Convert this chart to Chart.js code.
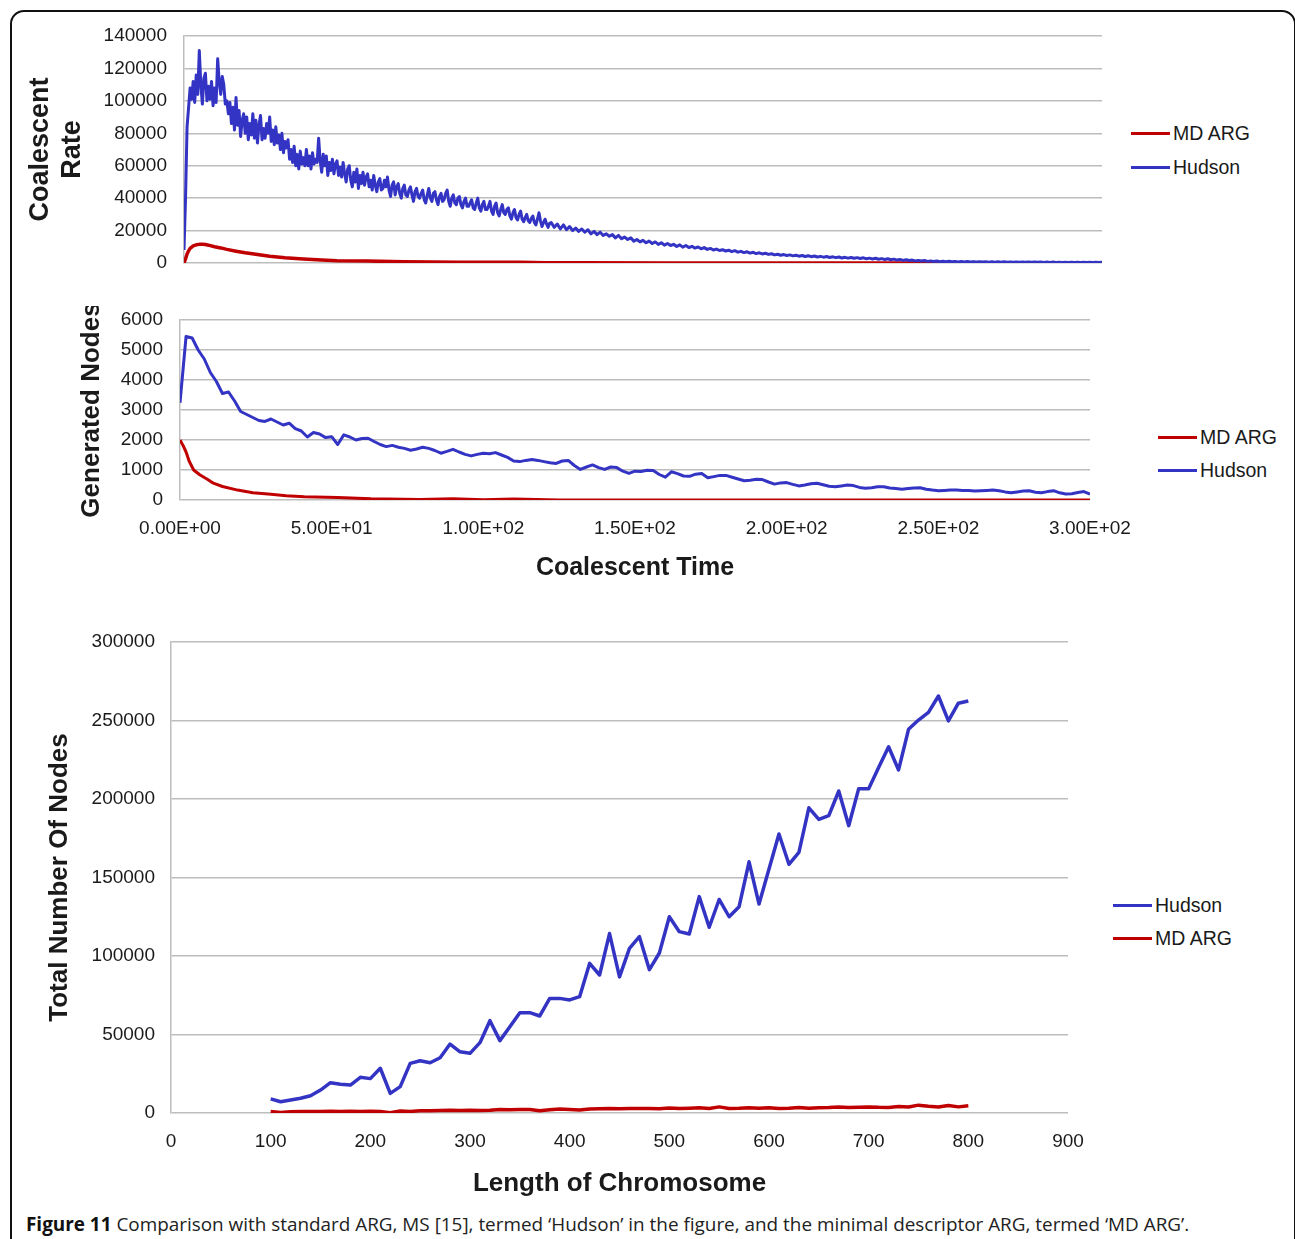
<!DOCTYPE html>
<html>
<head>
<meta charset="utf-8">
<script src="https://cdn.jsdelivr.net/npm/chart.js@4.4.1/dist/chart.umd.min.js"></script>
<style>
  html, body { margin:0; padding:0; background:#fff; }
  body { width:1295px; height:1239px; overflow:hidden; position:relative; font-family:"Liberation Sans", Arial, sans-serif; }
  .frame { position:absolute; left:10px; top:10px; width:1282px; height:1300px; border:2px solid #111; border-radius:14px; }
  .box { position:absolute; }
  .leg { position:absolute; display:flex; align-items:center; height:24px; font-size:19.5px; color:#1a1a1a; white-space:nowrap; }
  .leg span { display:inline-block; width:39px; height:3px; margin-right:3px; }
  .caption { position:absolute; left:26px; top:1211px; font-family:"Open Sans", "Noto Sans", sans-serif; font-size:18.9px; line-height:26px; color:#222; white-space:nowrap; }
  .caption b { color:#111; }
</style>
</head>
<body>
<div class="frame"></div>

<div class="box" style="left:20px;top:26px;width:1090px;height:250px"><canvas id="rate"></canvas></div>
<div class="leg" style="left:1131px;top:121px"><span style="background:#c00000"></span>MD ARG</div>
<div class="leg" style="left:1131px;top:155px"><span style="background:#3434c4"></span>Hudson</div>

<div class="box" style="left:20px;top:306px;width:1120px;height:280px"><canvas id="nodes"></canvas></div>
<div class="leg" style="left:1158px;top:425px"><span style="background:#c00000"></span>MD ARG</div>
<div class="leg" style="left:1158px;top:458px"><span style="background:#3434c4"></span>Hudson</div>

<div class="box" style="left:20px;top:628px;width:1078px;height:573px"><canvas id="total"></canvas></div>
<div class="leg" style="left:1113px;top:893px"><span style="background:#3434c4"></span>Hudson</div>
<div class="leg" style="left:1113px;top:926px"><span style="background:#c00000"></span>MD ARG</div>

<div class="caption"><b>Figure 11</b> Comparison with standard ARG, MS [15], termed ‘Hudson’ in the figure, and the minimal descriptor ARG, termed ‘MD ARG’.</div>

<script>
// ---- coalescent rate (top) ----
// Hudson: every 0.5 time units up to t=119.5, then every 1 unit from t=120 to 300
const RATE_EARLY_STEP = 0.5, RATE_LATE_START = 120, RATE_LATE_STEP = 1;
const rateHudsonEarly = [
  8000, 40000, 84000, 96000, 108000, 101000, 112000, 99000, 116000, 104000,
  131000, 110000, 98000, 114000, 117000, 100000, 109000, 101000, 112000, 97000,
  108000, 99000, 126000, 112000, 104000, 115000, 110000, 98000, 100000, 92000,
  99000, 86000, 96000, 82000, 102000, 85000, 94000, 78000, 88000, 92000,
  80000, 90000, 76000, 86000, 79000, 92000, 77000, 88000, 74000, 85000,
  91000, 76000, 83000, 77000, 86000, 80000, 90000, 75000, 82000, 73000,
  84000, 74000, 79000, 70000, 80000, 68000, 75000, 71000, 76000, 64000,
  70000, 62000, 72000, 60000, 67000, 58000, 69000, 61000, 65000, 60000,
  70000, 60000, 66000, 58000, 68000, 61000, 64000, 62000, 77000, 63000,
  56000, 67000, 60000, 66000, 54000, 62000, 57000, 64000, 55000, 61000,
  63000, 54000, 59000, 53000, 62000, 55000, 50000, 58000, 60000, 51000,
  47000, 56000, 50000, 58000, 46000, 54000, 49000, 56000, 48000, 53000,
  55000, 47000, 51000, 45000, 54000, 48000, 44000, 50000, 52000, 45000,
  46000, 51000, 47000, 53000, 45000, 41000, 48000, 50000, 42000, 47000,
  49000, 43000, 40000, 46000, 48000, 42000, 41000, 45000, 47000, 42000,
  38000, 44000, 46000, 41000, 40000, 43000, 45000, 39000, 37000, 42000,
  46000, 40000, 38000, 43000, 44000, 39000, 36000, 41000, 43000, 38000,
  39000, 43000, 45000, 38000, 35000, 40000, 42000, 37000, 36000, 40000,
  41000, 36000, 34000, 38000, 40000, 35000, 35000, 37000, 39000, 34000,
  33000, 37000, 40000, 34000, 32000, 36000, 38000, 33000, 33000, 35000,
  38000, 32000, 30000, 35000, 37000, 31000, 29000, 33000, 36000, 31000,
  30000, 33000, 34000, 29000, 27000, 31000, 33000, 28000, 26500, 30000,
  32000, 27000, 25500, 28000, 30000, 26000, 25000, 27500, 29000, 25000,
  23500, 27000, 31000, 26000, 22500, 25000, 27000, 24000, 22000, 24500
];
const rateHudsonLate = [
  25000, 22000, 24000, 21000, 23500, 20500, 22500, 20000, 21500, 19500,
  21000, 19000, 20500, 18000, 19500, 17500, 19000, 17000, 18000, 16500,
  17500, 15500, 17000, 15000, 16000, 14500, 15500, 13500, 14500, 13000,
  14000, 12500, 13500, 12000, 13000, 11500, 12500, 11000, 12000, 10800,
  11500, 10200, 11200, 9800, 10800, 9500, 10300, 9200, 9900, 8800,
  9500, 8400, 9000, 8000, 8600, 7700, 8200, 7400, 7900, 7000,
  7600, 6700, 7200, 6400, 6900, 6100, 6600, 5800, 6300, 5600,
  6000, 5300, 5700, 5000, 5400, 4800, 5200, 4600, 5000, 4400,
  4800, 4200, 4600, 4000, 4500, 3900, 4300, 3700, 4100, 3600,
  4000, 3400, 3800, 3300, 3700, 3100, 3500, 3000, 3400, 2900,
  3300, 2800, 3200, 2600, 3000, 2500, 2900, 2300, 2700, 2200,
  2600, 2000, 2400, 1800, 2200, 1600, 2000, 1500, 1800, 1300,
  1600, 1200, 1500, 1000, 1300, 900, 1200, 800, 1100, 750,
  1100, 750, 1000, 700, 950, 650, 900, 620, 850, 600,
  820, 560, 780, 540, 760, 520, 740, 500, 720, 480,
  700, 460, 680, 450, 660, 440, 640, 420, 620, 400,
  600, 390, 580, 380, 560, 370, 540, 360, 520, 350,
  500, 340, 480, 330, 470, 320, 460, 310, 450, 300,
  400
];
const rateMdTime = [0, 0.5, 1, 1.5, 2, 3, 4, 5, 6, 7, 8, 10, 12, 14, 17, 20, 24, 28, 33, 39, 45, 50, 60, 72, 90, 110, 118, 130, 160, 200, 240, 300];
const rateMd     = [0, 2500, 5500, 7500, 9000, 10500, 11200, 11500, 11600, 11400, 11000, 10000, 9300, 8400, 7300, 6300, 5200, 4100, 3200, 2500, 1900, 1400, 1200, 700, 500, 450, 200, 80, 40, 20, 10, 0];
const rateTicks = [0, 20000, 40000, 60000, 80000, 100000, 120000, 140000];

// ---- generated nodes (middle) ----
const NODE_STEP = 2;
const nodesHudson = [
  3240, 5450, 5400, 5000, 4700, 4250, 3950, 3550, 3600, 3300,
  2950, 2850, 2750, 2650, 2620, 2700, 2600, 2500, 2560, 2380,
  2300, 2100, 2250, 2200, 2080, 2110, 1850, 2170, 2100, 2000,
  2050, 2060, 1950, 1850, 1780, 1820, 1760, 1720, 1660, 1700,
  1760, 1720, 1650, 1560, 1620, 1690, 1600, 1520, 1470, 1520,
  1560, 1540, 1580, 1500, 1420, 1300, 1280, 1320, 1350, 1320,
  1280, 1240, 1220, 1300, 1320, 1150, 1020, 1100, 1170, 1080,
  1020, 1100, 1080, 960, 890, 960, 950, 990, 980, 850,
  760, 940, 880, 800, 790, 860, 880, 740, 780, 820,
  820, 760, 700, 640, 660, 690, 680, 600, 530, 570,
  580, 520, 470, 500, 540, 560, 510, 460, 440, 470,
  500, 480, 420, 390, 410, 440, 440, 400, 380, 360,
  380, 400, 410, 360, 330, 310, 320, 330, 330, 320,
  320, 300, 310, 320, 330, 310, 270, 240, 270, 300,
  310, 260, 240, 280, 310, 240, 200, 210, 250, 280,
  200
];
const nodesMdTime = [0, 1, 2, 3, 4.5, 6.5, 9, 11, 14, 19, 24, 30, 35, 41, 52, 63, 79, 90, 100, 110, 125, 150, 200, 250, 300];
const nodesMd     = [2000, 1820, 1600, 1300, 1000, 840, 690, 560, 450, 330, 240, 190, 140, 110, 80, 40, 20, 40, 10, 30, 0, 0, 0, 0, 0];
const nodeTicks = [0, 1000, 2000, 3000, 4000, 5000, 6000];
const timeTicks = [0, 50, 100, 150, 200, 250, 300];

// ---- total nodes vs chromosome length (bottom) ----
const chromLength = [
  100, 110, 120, 130, 140, 150, 160, 170, 180, 190,
  200, 210, 220, 230, 240, 250, 260, 270, 280, 290,
  300, 310, 320, 330, 340, 350, 360, 370, 380, 390,
  400, 410, 420, 430, 440, 450, 460, 470, 480, 490,
  500, 510, 520, 530, 540, 550, 560, 570, 580, 590,
  600, 610, 620, 630, 640, 650, 660, 670, 680, 690,
  700, 710, 720, 730, 740, 750, 760, 770, 780, 790,
  800
];
const totalHudson = [
  9000, 7200, 8300, 9400, 11000, 14600, 19300, 18300, 17800, 22700,
  21900, 28500, 12500, 16800, 31600, 33300, 32000, 35200, 43900, 39000,
  38000, 44800, 58800, 46100, 55000, 63900, 63900, 61800, 73000, 73000,
  72000, 74100, 95300, 87900, 114300, 86700, 104900, 112300, 91300, 101900,
  125000, 115500, 114000, 137800, 118300, 136000, 125000, 131400, 160000, 133100,
  155400, 177700, 158400, 166000, 194400, 187000, 189400, 205100, 183000, 206600,
  206600, 220000, 233300, 218500, 244400, 250300, 255200, 265600, 249700, 261000,
  262400
];
const totalMd = [
  900, 300, 800, 900, 1000, 1000, 1100, 1000, 1100, 1000,
  1100, 900, 200, 1300, 1000, 1400, 1500, 1600, 1700, 1600,
  1700, 1600, 1700, 2200, 2000, 2300, 2200, 1400, 2000, 2500,
  2200, 1900, 2600, 2700, 2800, 2700, 2900, 2800, 2900, 2700,
  3200, 2800, 3000, 3300, 2900, 3900, 2900, 3000, 3300, 3000,
  3400, 2900, 3100, 3500, 3000, 3400, 3500, 3800, 3500, 3700,
  3900, 3600, 3500, 4100, 3800, 5000, 4300, 3800, 4800, 3900,
  4600
];
const lengthTicks = [0, 100, 200, 300, 400, 500, 600, 700, 800, 900];
const totalTicks = [0, 50000, 100000, 150000, 200000, 250000, 300000];

const BLUE = '#3434c4', RED = '#c00000', GRID = '#bdbdbd', INK = '#1a1a1a';
Chart.defaults.font.family = '"Liberation Sans", Arial, sans-serif';
Chart.defaults.color = INK;

const pts = (xs, ys) => ys.map((y, i) => ({ x: xs[i], y }));
const stepped = (ys, step, start = 0) => ys.map((y, i) => ({ x: start + i * step, y }));
function sci(v) {
  const [m, e] = Number(v).toExponential(2).split('e');
  const n = Number(e);
  return m + 'E' + (n < 0 ? '-' : '+') + String(Math.abs(n)).padStart(2, '0');
}
function line(label, data, color, width, order) {
  return { label, data, borderColor: color, backgroundColor: color, borderWidth: width,
    pointRadius: 0, tension: 0, borderJoinStyle: 'round', order };
}
// fixed-size axes so the plot area lands where the figure has it
function fixY(width) {
  return s => { s.width = width; s.paddingTop = 0; s.paddingBottom = 0; };
}
function fixX(height) {
  return s => { s.height = height; s.paddingLeft = 0; s.paddingRight = 0; };
}
function yAxis(max, ticks, title, width, pad, titleSize, titlePad) {
  return {
    min: 0, max,
    afterBuildTicks: s => { s.ticks = ticks.map(v => ({ value: v })); },
    afterFit: fixY(width),
    ticks: { padding: pad, font: { size: 19 }, color: INK, callback: v => String(v) },
    grid: { color: GRID, lineWidth: 1.5, drawTicks: false },
    border: { color: GRID, width: 1.5 },
    title: { display: true, text: title, color: INK, font: { size: titleSize, weight: 'bold' }, padding: { top: titlePad, bottom: 0 } }
  };
}
function xAxis(max, ticks, fmt, height, title, titleSize, titlePad) {
  return {
    type: 'linear', min: 0, max,
    afterBuildTicks: s => { s.ticks = ticks.map(v => ({ value: v })); },
    afterFit: fixX(height),
    ticks: { padding: 17, font: { size: 19 }, color: INK, maxRotation: 0, callback: fmt },
    grid: { display: false, drawTicks: false }, border: { display: false },
    title: { display: true, text: title, color: INK, font: { size: titleSize, weight: 'bold' }, padding: { top: 0, bottom: titlePad } }
  };
}
const base = {
  responsive: true, maintainAspectRatio: false, animation: false,
  plugins: { legend: { display: false }, tooltip: { enabled: false } }
};

const rateHudsonPts = stepped(rateHudsonEarly, RATE_EARLY_STEP)
  .concat(stepped(rateHudsonLate, RATE_LATE_STEP, RATE_LATE_START));

new Chart(document.getElementById('rate'), {
  type: 'line',
  data: { datasets: [
    line('MD ARG', pts(rateMdTime, rateMd), RED, 3.5, 1),
    line('Hudson', rateHudsonPts, BLUE, 3, 0)
  ]},
  options: { ...base,
    layout: { padding: { top: 10, right: 8, bottom: 13, left: 0 } },
    scales: {
      x: { type: 'linear', min: 0, max: 300, display: false },
      y: yAxis(140000, rateTicks, ['Coalescent', 'Rate'], 164, 17, 27, 4)
    }
  }
});

new Chart(document.getElementById('nodes'), {
  type: 'line',
  data: { datasets: [
    line('MD ARG', pts(nodesMdTime, nodesMd), RED, 3, 1),
    line('Hudson', stepped(nodesHudson, NODE_STEP), BLUE, 3, 0)
  ]},
  options: { ...base,
    layout: { padding: { top: 14, right: 50, bottom: 0, left: 0 } },
    scales: {
      x: xAxis(300, timeTicks, v => sci(v), 86, 'Coalescent Time', 25, 3),
      y: yAxis(6000, nodeTicks, 'Generated Nodes', 160, 17, 26, 56)
    }
  }
});

new Chart(document.getElementById('total'), {
  type: 'line',
  data: { datasets: [
    line('Hudson', pts(chromLength, totalHudson), BLUE, 3.5, 0),
    line('MD ARG', pts(chromLength, totalMd), RED, 3.5, 1)
  ]},
  options: { ...base,
    layout: { padding: { top: 14, right: 30, bottom: 0, left: 0 } },
    scales: {
      x: xAxis(900, lengthTicks, v => String(v), 88, 'Length of Chromosome', 26, 2),
      y: yAxis(300000, totalTicks, 'Total Number Of Nodes', 151, 16, 26, 24)
    }
  }
});
</script>
</body>
</html>
